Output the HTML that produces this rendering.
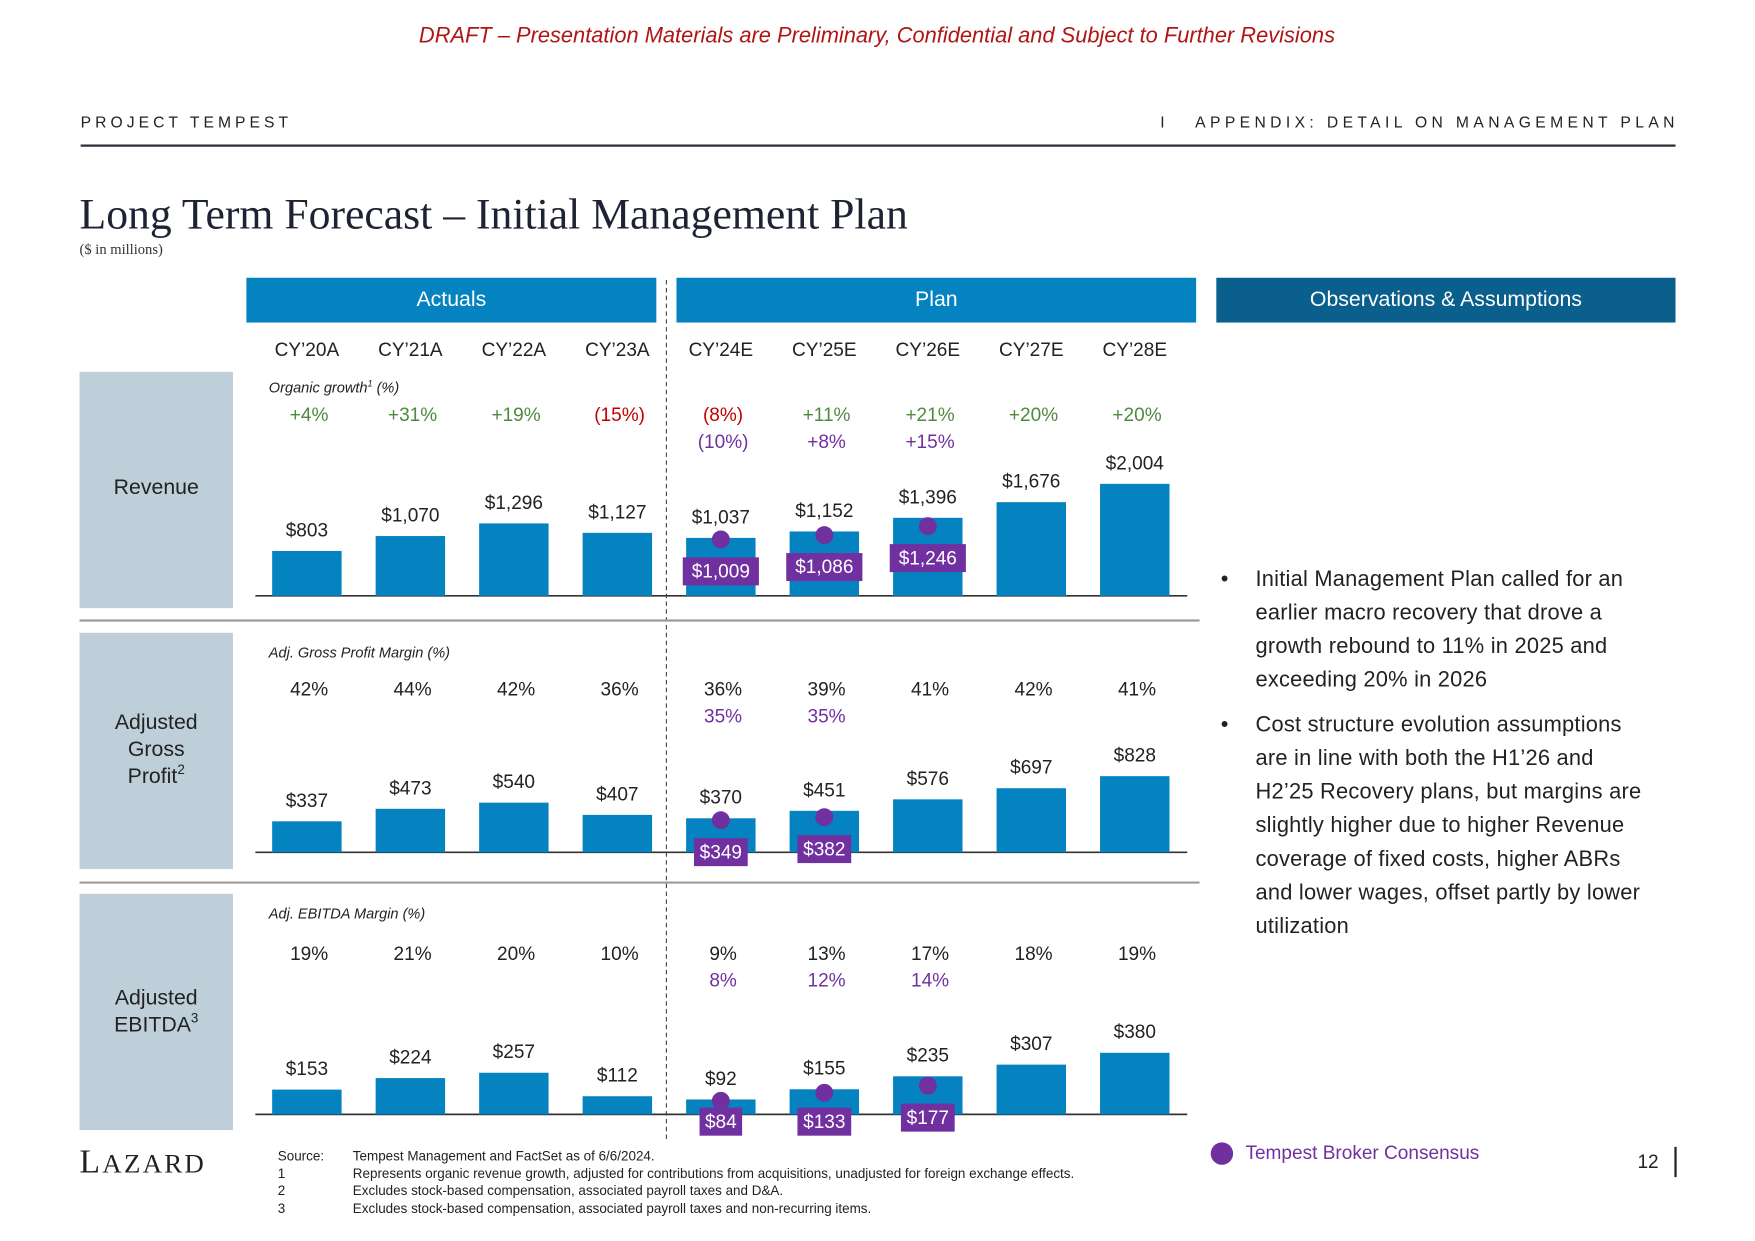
<!DOCTYPE html>
<html><head><meta charset="utf-8">
<style>
html,body{margin:0;padding:0;background:#fff;width:1755px;height:1241px;overflow:hidden}
#wrap{position:absolute;left:0;top:0;width:1567px;height:1108px;transform:scale(1.12);transform-origin:0 0;font-family:"Liberation Sans",sans-serif;color:#222}
.abs{position:absolute;white-space:nowrap}
svg text{font-family:"Liberation Sans",sans-serif}
sup.s{font-size:12px;vertical-align:0;position:relative;top:-8px;line-height:0}
</style></head>
<body>
<div id="wrap">
<div class="abs" style="left:0;width:1566px;text-align:center;top:21px;font-size:19.5px;font-style:italic;color:#B01515">DRAFT – Presentation Materials are Preliminary, Confidential and Subject to Further Revisions</div>
<div class="abs" style="left:72px;top:101px;font-size:14px;letter-spacing:3.6px;color:#222">PROJECT TEMPEST</div>
<div class="abs" style="right:68px;top:101px;font-size:14px;letter-spacing:3.9px;color:#222">I &nbsp;&nbsp;APPENDIX: DETAIL ON MANAGEMENT PLAN</div>
<div class="abs" style="left:72px;top:129px;width:1424px;height:2px;background:#2a2f3a"></div>
<div class="abs" style="left:71px;top:169px;font-family:'Liberation Serif',serif;font-size:39px;color:#1e2333">Long Term Forecast – Initial Management Plan</div>
<div class="abs" style="left:71px;top:215px;font-family:'Liberation Serif',serif;font-size:13px;color:#333">($ in millions)</div>

<div class="abs" style="left:220px;top:248px;width:366px;height:40px;background:#0582C0;color:#fff;font-size:19px;line-height:40px;text-align:center">Actuals</div>
<div class="abs" style="left:604px;top:248px;width:464px;height:40px;background:#0582C0;color:#fff;font-size:19px;line-height:40px;text-align:center">Plan</div>
<div class="abs" style="left:1086px;top:248px;width:410px;height:40px;background:#0A5F8C;color:#fff;font-size:19px;line-height:40px;text-align:center">Observations &amp; Assumptions</div>

<div class="abs" style="left:71px;top:332px;width:137px;height:211px;background:#BFCFD9;font-size:19px;text-align:center;line-height:24px;display:flex;align-items:center;justify-content:center;white-space:normal"><span style="margin-top:-3px">Revenue</span></div>
<div class="abs" style="left:71px;top:565px;width:137px;height:211px;background:#BFCFD9;font-size:19px;text-align:center;line-height:24px;white-space:normal"><div style="margin-top:69px">Adjusted<br>Gross<br>Profit<sup class="s">2</sup></div></div>
<div class="abs" style="left:71px;top:798px;width:137px;height:211px;background:#BFCFD9;font-size:19px;text-align:center;line-height:24px;white-space:normal"><div style="margin-top:82px">Adjusted<br>EBITDA<sup class="s">3</sup></div></div>

<div class="abs" style="left:240px;top:338px;font-size:13px;font-style:italic">Organic growth<sup style="font-size:8px">1</sup> (%)</div>
<div class="abs" style="left:240px;top:575px;font-size:13px;font-style:italic">Adj. Gross Profit Margin (%)</div>
<div class="abs" style="left:240px;top:808px;font-size:13px;font-style:italic">Adj. EBITDA Margin (%)</div>

<svg id="chart" width="1567" height="1108" style="position:absolute;left:0;top:0"></svg>

<div class="abs" style="left:1090px;top:502px;font-size:19.5px;line-height:30px;color:#222;letter-spacing:0.2px">
<div style="position:relative;padding-left:31px;margin-bottom:10px"><span style="position:absolute;left:0">•</span>Initial Management Plan called for an<br>earlier macro recovery that drove a<br>growth rebound to 11% in 2025 and<br>exceeding 20% in 2026</div>
<div style="position:relative;padding-left:31px"><span style="position:absolute;left:0">•</span>Cost structure evolution assumptions<br>are in line with both the H1’26 and<br>H2’25 Recovery plans, but margins are<br>slightly higher due to higher Revenue<br>coverage of fixed costs, higher ABRs<br>and lower wages, offset partly by lower<br>utilization</div>
</div>

<div class="abs" style="left:1081px;top:1020px;width:20px;height:20px;border-radius:50%;background:#7030A0"></div>
<div class="abs" style="left:1112px;top:1020px;font-size:17px;color:#7030A0">Tempest Broker Consensus</div>
<div class="abs" style="left:1462px;top:1028px;font-size:17px">12</div>
<div class="abs" style="left:1495px;top:1024px;width:1.5px;height:27px;background:#222"></div>
<div class="abs" style="left:71px;top:1021px;font-family:'Liberation Serif',serif;font-size:30px;letter-spacing:2px;color:#222">L<span style="font-size:24px">AZARD</span></div>
<div class="abs" style="left:248px;top:1025px;font-size:12px;line-height:15.6px;color:#222">
<div><span style="display:inline-block;width:67px">Source:</span>Tempest Management and FactSet as of 6/6/2024.</div>
<div><span style="display:inline-block;width:67px">1</span>Represents organic revenue growth, adjusted for contributions from acquisitions, unadjusted for foreign exchange effects.</div>
<div><span style="display:inline-block;width:67px">2</span>Excludes stock-based compensation, associated payroll taxes and D&amp;A.</div>
<div><span style="display:inline-block;width:67px">3</span>Excludes stock-based compensation, associated payroll taxes and non-recurring items.</div>
</div>
</div>
<script>
const categories=["CY’20A","CY’21A","CY’22A","CY’23A","CY’24E","CY’25E","CY’26E","CY’27E","CY’28E"];
const revenue=[803,1070,1296,1127,1037,1152,1396,1676,2004];
const revenueConsensus=[null,null,null,null,1009,1086,1246,null,null];
const growth=["+4%","+31%","+19%","(15%)","(8%)","+11%","+21%","+20%","+20%"];
const growthConsensus=[null,null,null,null,"(10%)","+8%","+15%",null,null];
const grossProfit=[337,473,540,407,370,451,576,697,828];
const gpConsensus=[null,null,null,null,349,382,null,null,null];
const gpMargin=["42%","44%","42%","36%","36%","39%","41%","42%","41%"];
const gpMarginConsensus=[null,null,null,null,"35%","35%",null,null,null];
const ebitda=[153,224,257,112,92,155,235,307,380];
const ebitdaConsensus=[null,null,null,null,84,133,177,null,null];
const ebitdaMargin=["19%","21%","20%","10%","9%","13%","17%","18%","19%"];
const ebitdaMarginConsensus=[null,null,null,null,"8%","12%","14%",null,null];

const svg=document.getElementById('chart');
const NS='http://www.w3.org/2000/svg';
function mk(tag,attrs,txt){const e=document.createElementNS(NS,tag);for(const k in attrs)e.setAttribute(k,attrs[k]);if(txt!=null)e.textContent=txt;svg.appendChild(e);return e;}
function xc(i){return 274+i*92.4;}
const BW=62;

mk('line',{x1:595,y1:250,x2:595,y2:1020,stroke:'#444','stroke-width':1,'stroke-dasharray':'4,3',});
[554,788].forEach(y=>{const l=mk('line',{x1:71,y1:y,x2:1071,y2:y,stroke:'#A09A92','stroke-width':2});

});

categories.forEach((c,i)=>{const t=mk('text',{x:xc(i),y:318,'text-anchor':'middle','font-size':17,fill:'#222'},c);

});

function colorFor(s){return s.startsWith('(')?'#C00000':(s.startsWith('+')?'#4E8A3E':'#222');}

function panel(name,vals,cons,labels,labelsCons,base,scale,rowY,clampBox,colored){
  const ax=mk('line',{x1:228,y1:base,x2:1060,y2:base,stroke:'#333','stroke-width':1.5});
  
  
  vals.forEach((v,i)=>{
    const h=v*scale, x=xc(i);
    const b=mk('rect',{x:x-BW/2,y:base-h,width:BW,height:h,fill:'#0582C0'});
    
    
    const t=mk('text',{x:x,y:base-h-13,'text-anchor':'middle','font-size':17,fill:'#222'},'$'+v.toLocaleString('en-US'));
    
    
    const g=mk('text',{x:x+2,y:rowY+6,'text-anchor':'middle','font-size':17,fill:colored?colorFor(labels[i]):'#222'},labels[i]);
    
    
    if(labelsCons[i]){const g2=mk('text',{x:x+2,y:rowY+30,'text-anchor':'middle','font-size':17,fill:'#7030A0'},labelsCons[i]);
      
      }
    if(cons[i]!=null){
      const cy=base-cons[i]*scale;
      const d=mk('circle',{cx:x,cy:cy,r:8,fill:'#7030A0'});
      
      
      let by=cy+28; if(clampBox) by=Math.min(by,base+6);
      const txt='$'+cons[i].toLocaleString('en-US');
      const w=txt.length*10+8;
      const r=mk('rect',{x:x-w/2,y:by-12,width:w,height:25,fill:'#7030A0'});
      
      
      const tt=mk('text',{x:x,y:by+6,'text-anchor':'middle','font-size':17,fill:'#fff'},txt);
      
      
    }
  });
}
panel('revenue',revenue,revenueConsensus,growth,growthConsensus,532,100/2004,370,false,true);
panel('gross-profit',grossProfit,gpConsensus,gpMargin,gpMarginConsensus,761,68/828,615,false,false);
panel('ebitda',ebitda,ebitdaConsensus,ebitdaMargin,ebitdaMarginConsensus,995,55/380,851,true,false);
</script>
</body></html>
